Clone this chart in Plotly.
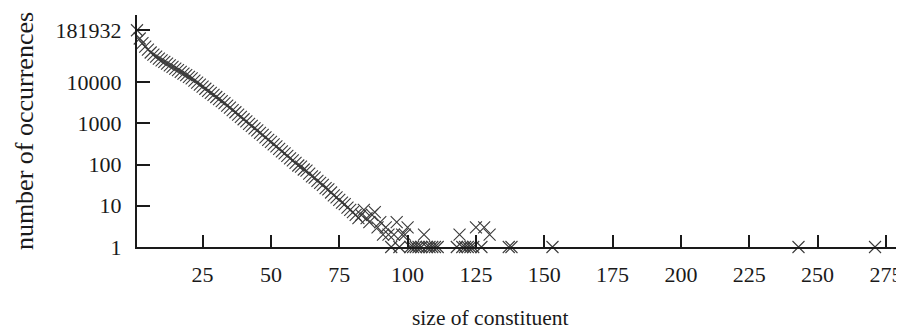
import plotly.graph_objects as go

# size of constituent (x) and number of occurrences (y)
sizes = list(range(1, 112)) + [118, 119, 120, 121, 122, 123, 124, 125, 127, 128, 130,
                               137, 138, 153, 243, 271]
counts = [
    181932, 114815, 89125, 72444, 61660, 52481, 46774, 41687, 37154, 33884,
    30903, 28184, 25704, 23442, 21380, 19498, 17783, 16218, 14791, 13490,
    12303, 10965, 9772, 8710, 7762, 6918, 6166, 5495, 4898, 4365,
    3890, 3467, 3090, 2692, 2399, 2089, 1862, 1622, 1445, 1259,
    1122, 977, 871, 759, 676, 589, 525, 457, 398, 355,
    309, 275, 240, 209, 186, 162, 141, 126, 110, 95,
    89, 76, 71, 60, 52, 48, 40, 36, 32, 27,
    25, 21, 18, 16, 14, 12, 11, 9, 8, 7,
    6, 5, 6, 8, 5, 4, 6, 7, 3, 4,
    2, 3, 2, 1, 2, 4, 1, 2, 2, 3,
    1, 1, 1, 1, 1, 2, 1, 1, 1, 1, 1,
    1, 2, 1, 1, 1, 1, 1, 3, 1, 3, 2,
    1, 1, 1, 1, 1,
]

x_ticks = [25, 50, 75, 100, 125, 150, 175, 200, 225, 250, 275]
y_ticks = [1, 10, 100, 1000, 10000, 181932]
y_tick_text = ["1", "10", "100", "1000", "10000", "181932"]

FONT = "Liberation Serif"
AX = "#1a1a1a"

fig = go.Figure()
fig.add_trace(go.Scatter(
    x=sizes, y=counts, mode="markers", cliponaxis=False,
    marker=dict(symbol="x-thin", size=12,
                line=dict(width=1.1, color="#3a3a3a")),
    showlegend=False,
))

fig.update_layout(
    width=896, height=321,
    margin=dict(l=129, r=0, t=7, b=82, autoexpand=False),
    paper_bgcolor="white", plot_bgcolor="white",
    font=dict(family=FONT, size=22, color="#1a1a1a"),
    xaxis=dict(
        range=[1, 281.6], tickvals=x_ticks, ticks="inside", ticklen=12,
        tickwidth=2, tickcolor=AX, showline=True, linewidth=2, linecolor=AX,
        showgrid=False, zeroline=False, ticklabelstandoff=7, automargin=False,
    ),
    yaxis=dict(
        type="log", range=[0, 5.63], tickvals=y_ticks, ticktext=y_tick_text,
        ticks="inside", ticklen=13, tickwidth=2, tickcolor=AX,
        showline=True, linewidth=2, linecolor=AX, showgrid=False,
        zeroline=False, ticklabelstandoff=9, automargin=False,
        title=dict(text="number of occurrences", standoff=14,
                   font=dict(family=FONT, size=26)),
    ),
    annotations=[dict(
        text="size of constituent", xref="paper", yref="paper",
        x=0.46, y=-0.305, xanchor="center", yanchor="middle",
        showarrow=False, font=dict(family=FONT, size=21.5, color="#1a1a1a"),
    )],
)

fig.write_html("out.html")
